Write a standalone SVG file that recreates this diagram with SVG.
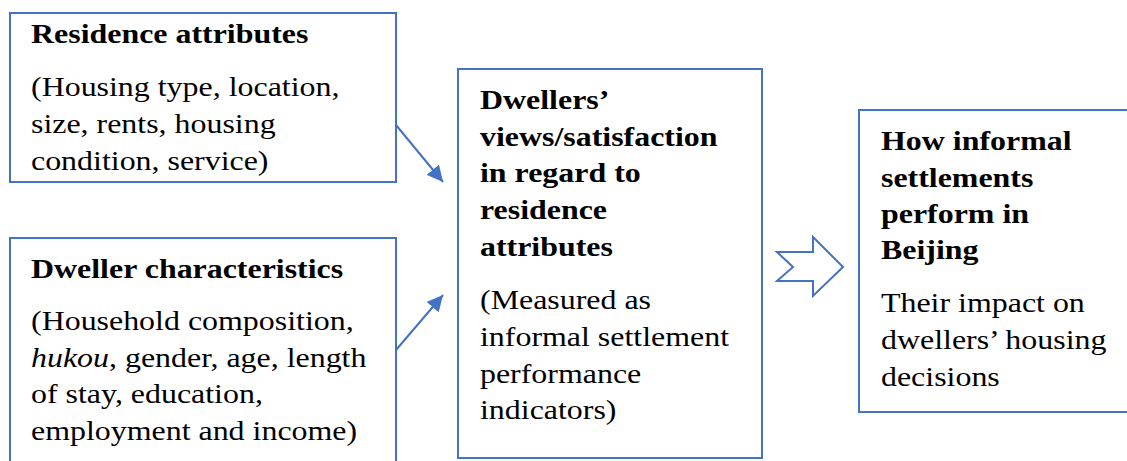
<svg xmlns="http://www.w3.org/2000/svg" width="1127" height="461" viewBox="0 0 1127 461">
  <defs>
    <style>
      .box { fill: #ffffff; stroke: #4472c4; stroke-width: 2; }
      .link { fill: none; stroke: #4472c4; stroke-width: 2; }
      .block { fill: #ffffff; stroke: #4472c4; stroke-width: 2; stroke-linejoin: miter; }
      text { font-family: "Liberation Serif", "Times New Roman", serif; font-size: 28px; fill: #000000; }
      .title { font-weight: bold; }
      .it { font-style: italic; }
    </style>
    <marker id="head" viewBox="0 0 10 10" refX="10" refY="5" markerWidth="8" markerHeight="8" orient="auto" markerUnits="strokeWidth">
      <path d="M0,0 L10,5 L0,10 z" fill="#4472c4"/>
    </marker>
  </defs>
  <rect width="1127" height="461" fill="#ffffff"/>

  <!-- text is set in a slightly widened face: each line is placed by translate, then stretched horizontally -->
  <g id="residence-attributes">
    <rect class="box" x="10" y="13" width="386" height="169"/>
    <text class="title" transform="translate(31,43) scale(1.14,1)">Residence attributes</text>
    <text transform="translate(31,96) scale(1.14,1)">(Housing type, location,</text>
    <text transform="translate(31,133) scale(1.14,1)">size, rents, housing</text>
    <text transform="translate(31,170) scale(1.14,1)">condition, service)</text>
  </g>

  <g id="dweller-characteristics">
    <rect class="box" x="10" y="238" width="386" height="240"/>
    <text class="title" transform="translate(31,278) scale(1.14,1)">Dweller characteristics</text>
    <text transform="translate(31,330) scale(1.14,1)">(Household composition,</text>
    <text transform="translate(31,367) scale(1.14,1)"><tspan class="it">hukou</tspan>, gender, age, length</text>
    <text transform="translate(31,403) scale(1.14,1)">of stay, education,</text>
    <text transform="translate(31,440) scale(1.14,1)">employment and income)</text>
  </g>

  <g id="dweller-views">
    <rect class="box" x="458" y="69" width="304" height="389"/>
    <text class="title" transform="translate(480,109) scale(1.14,1)">Dwellers’</text>
    <text class="title" transform="translate(480,146) scale(1.14,1)">views/satisfaction</text>
    <text class="title" transform="translate(480,182) scale(1.14,1)">in regard to</text>
    <text class="title" transform="translate(480,219) scale(1.14,1)">residence</text>
    <text class="title" transform="translate(480,256) scale(1.14,1)">attributes</text>
    <text transform="translate(480,309) scale(1.14,1)">(Measured as</text>
    <text transform="translate(480,346) scale(1.14,1)">informal settlement</text>
    <text transform="translate(480,383) scale(1.14,1)">performance</text>
    <text transform="translate(480,419) scale(1.14,1)">indicators)</text>
  </g>

  <g id="settlement-performance">
    <rect class="box" x="859" y="110" width="280" height="302"/>
    <text class="title" transform="translate(881,150) scale(1.14,1)">How informal</text>
    <text class="title" transform="translate(881,187) scale(1.14,1)">settlements</text>
    <text class="title" transform="translate(881,223) scale(1.14,1)">perform in</text>
    <text class="title" transform="translate(881,259) scale(1.14,1)">Beijing</text>
    <text transform="translate(881,312) scale(1.14,1)">Their impact on</text>
    <text transform="translate(881,349) scale(1.14,1)">dwellers’ housing</text>
    <text transform="translate(881,386) scale(1.14,1)">decisions</text>
  </g>

  <g id="connectors">
    <line class="link" x1="396" y1="125" x2="443" y2="182" marker-end="url(#head)"/>
    <line class="link" x1="396" y1="350" x2="443" y2="295" marker-end="url(#head)"/>
    <polygon class="block" points="777,252 813,252 813,237 843,267 813,296 813,281 777,281 793,267"/>
  </g>
</svg>
